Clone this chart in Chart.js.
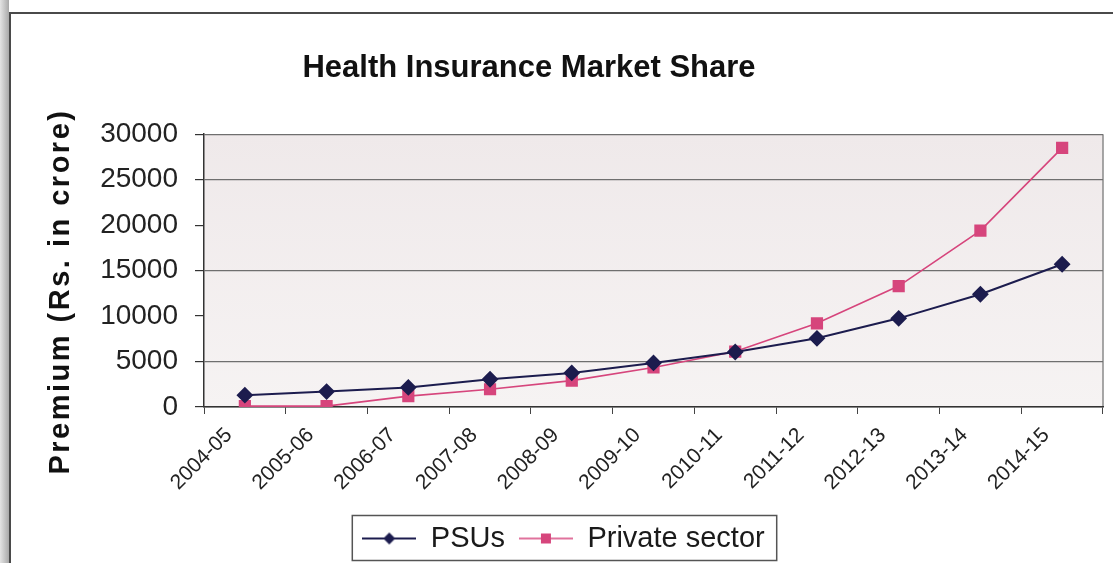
<!DOCTYPE html>
<html>
<head>
<meta charset="utf-8">
<script src="https://cdn.jsdelivr.net/npm/chart.js@4.4.1/dist/chart.umd.min.js"></script>
<style>
    html, body { margin: 0; padding: 0; background: #fff; }
    canvas { display: block; }
</style>
</head>
<body>
<canvas id="chart" width="1113" height="563"></canvas>
<script>
// premium in Rs. crore, by financial year
const years = ['2004-05', '2005-06', '2006-07', '2007-08', '2008-09', '2009-10',
    '2010-11', '2011-12', '2012-13', '2013-14', '2014-15']
const psuPremium = [1300, 1700, 2150, 3050, 3750, 4850, 6050, 7550, 9750, 12400, 15700]
const privatePremium = [100, 100, 1200, 1950, 2900, 4350, 6100, 9200, 13300, 19400, 28500]
const yTicks = [0, 5000, 10000, 15000, 20000, 25000, 30000]
const hiddenGridLines = [10000, 20000]

const psuColour = '#1c1c4e'
const privateColour = '#d6457c'

window.addEventListener('load', function () {

    Chart.defaults.font.family = '"Liberation Sans", Arial, sans-serif'
    Chart.defaults.color = '#1a1a1a'

    // little line + marker swatch for the legend
    function legendSwatch(colour, style, lineWidth) {
        let c = document.createElement('canvas')
        c.width = 54
        c.height = 20
        let g = c.getContext('2d')
        g.strokeStyle = colour
        g.lineWidth = lineWidth
        g.beginPath()
        g.moveTo(0, 10)
        g.lineTo(54, 10)
        g.stroke()
        g.fillStyle = colour
        if (style === 'diamond') {
            g.beginPath()
            g.moveTo(27, 4)
            g.lineTo(33, 10)
            g.lineTo(27, 16)
            g.lineTo(21, 10)
            g.closePath()
            g.fill()
        } else {
            g.fillRect(22, 5, 10, 10)
        }
        return c
    }

    const frame = {
        id: 'frame',
        beforeDraw(chart) {
            let ctx = chart.ctx
            let area = chart.chartArea
            ctx.save()
            ctx.fillStyle = '#ffffff'
            ctx.fillRect(0, 0, chart.width, chart.height)
            let side = ctx.createLinearGradient(0, 0, 9, 0)
            side.addColorStop(0, '#e4e4e4')
            side.addColorStop(1, '#a9a9a9')
            ctx.fillStyle = side
            ctx.fillRect(0, 0, 9, chart.height)
            ctx.strokeStyle = '#4a4a4a'
            ctx.lineWidth = 2
            ctx.beginPath()
            ctx.moveTo(10, chart.height)
            ctx.lineTo(10, 13)
            ctx.lineTo(chart.width, 13)
            ctx.stroke()

            let bg = ctx.createLinearGradient(0, area.top, 0, area.bottom)
            bg.addColorStop(0, '#efe9ea')
            bg.addColorStop(1, '#f6f3f3')
            ctx.fillStyle = bg
            ctx.fillRect(area.left, area.top, area.right - area.left, area.bottom - area.top)
            ctx.strokeStyle = '#8a8a8a'
            ctx.lineWidth = 1.5
            ctx.beginPath()
            ctx.moveTo(area.right, area.top)
            ctx.lineTo(area.right, area.bottom)
            ctx.stroke()
            ctx.restore()
        },
        afterLayout(chart) {
            chart.titleBlock.right -= 45
            chart.legend.left += 12
            chart.legend.right += 12
        },
        afterDraw(chart) {
            let boxes = chart.legend.legendHitBoxes
            if (!boxes || !boxes.length) return
            let first = boxes[0]
            let last = boxes[boxes.length - 1]
            let mid = first.top + first.height / 2
            let ctx = chart.ctx
            ctx.save()
            ctx.strokeStyle = '#555'
            ctx.lineWidth = 1.5
            ctx.strokeRect(first.left - 10, mid - 23, last.left + last.width + 12 - (first.left - 10), 45)
            ctx.restore()
        }
    }

    var chart = document.getElementById('chart')
    var ctx = chart.getContext('2d')

    var myChart = new Chart(ctx, {
        type: 'line',
        data: {
            labels: years,
            datasets: [{
                label: 'PSUs',
                data: psuPremium,
                borderColor: psuColour,
                backgroundColor: psuColour,
                borderWidth: 2,
                pointStyle: 'rectRot',
                pointRadius: 7,
                pointHoverRadius: 7,
                tension: 0
            }, {
                label: 'Private sector',
                data: privatePremium,
                borderColor: privateColour,
                backgroundColor: privateColour,
                borderWidth: 1.6,
                pointStyle: 'rect',
                pointRadius: 7.5,
                pointHoverRadius: 7.5,
                tension: 0
            }]
        },
        options: {
            responsive: false,
            animation: false,
            layout: {padding: {left: 0, right: 10, top: 0, bottom: 0}},
            plugins: {
                title: {
                    display: true,
                    text: 'Health Insurance Market Share',
                    color: '#111',
                    font: {size: 31, weight: 'bold'},
                    padding: {top: 50, bottom: 47}
                },
                legend: {
                    position: 'bottom',
                    labels: {
                        usePointStyle: true,
                        pointStyleWidth: 54,
                        padding: 14,
                        color: '#1a1a1a',
                        font: {size: 29},
                        generateLabels: function (c) {
                            return [
                                {text: 'PSUs', pointStyle: legendSwatch(psuColour, 'diamond', 2), datasetIndex: 0, lineWidth: 0, fontColor: '#1a1a1a'},
                                {text: 'Private sector', pointStyle: legendSwatch(privateColour, 'square', 1.6), datasetIndex: 1, lineWidth: 0, fontColor: '#1a1a1a'}
                            ]
                        }
                    }
                },
                tooltip: {enabled: false}
            },
            scales: {
                x: {
                    offset: true,
                    grid: {
                        offset: true,
                        drawOnChartArea: false,
                        drawTicks: true,
                        tickLength: 7,
                        color: '#444'
                    },
                    border: {color: '#333', width: 1.5},
                    ticks: {
                        autoSkip: false,
                        minRotation: 45,
                        maxRotation: 45,
                        labelOffset: -16,
                        padding: 9,
                        color: '#222',
                        font: {size: 21}
                    },
                    afterFit: function (scale) {
                        scale.height = 103
                    }
                },
                y: {
                    min: 0,
                    max: 30000,
                    afterBuildTicks: function (scale) {
                        scale.ticks = yTicks.map(v => ({value: v}))
                    },
                    grid: {
                        color: function (c) {
                            return hiddenGridLines.includes(c.tick.value) ? 'rgba(0,0,0,0)' : '#6f6f6f'
                        },
                        tickColor: '#333',
                        tickLength: 9,
                        lineWidth: 1.2
                    },
                    border: {color: '#333', width: 1.5},
                    ticks: {
                        padding: 17,
                        color: '#222',
                        font: {size: 28},
                        callback: function (value) {
                            return String(value)
                        }
                    },
                    title: {
                        display: true,
                        text: 'Premium (Rs. in crore)',
                        color: '#111',
                        font: {size: 29, weight: 'bold'},
                        padding: {top: 44, bottom: 0}
                    },
                    afterFit: function (scale) {
                        scale.width = 204
                        if (!scale.spacedTitle) {
                            let drawTitle = scale.drawTitle
                            scale.drawTitle = function () {
                                this.ctx.save()
                                this.ctx.letterSpacing = '2.5px'
                                this.ctx.translate(0, 21)
                                drawTitle.apply(this, arguments)
                                this.ctx.restore()
                            }
                            scale.spacedTitle = true
                        }
                    }
                }
            }
        },
        plugins: [frame]
    });
})
</script>
</body>
</html>
